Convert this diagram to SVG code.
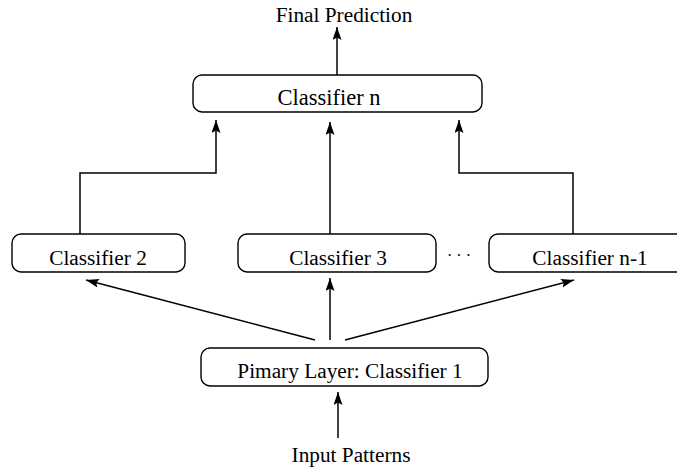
<svg xmlns="http://www.w3.org/2000/svg" width="677" height="469" viewBox="0 0 677 469">
  <defs>
    <marker id="arrow" viewBox="0 0 13 9" refX="13" refY="4.5" markerWidth="13" markerHeight="9" markerUnits="userSpaceOnUse" orient="auto">
      <path d="M0,0 L13,4.5 L0,9 L2.5,4.5 Z" fill="#000"/>
    </marker>
    <style>
      .box { fill: #fff; stroke: #000; stroke-width: 1.4; }
      .lbl { font-family: "Liberation Serif", "Times New Roman", serif; font-size: 21.3px; fill: #000; text-anchor: middle; }
      .top { font-size: 22.5px; }
      .edge { fill: none; stroke: #000; stroke-width: 1.5; marker-end: url(#arrow); }
    </style>
  </defs>

  <rect width="677" height="469" fill="#fff"/>

  <!-- terminal labels -->
  <text class="lbl" x="344" y="22">Final Prediction</text>
  <text class="lbl" x="351" y="462">Input Patterns</text>

  <!-- connectors -->
  <g id="connectors">
    <line class="edge" x1="337" y1="75" x2="337" y2="27"/>
    <line class="edge" x1="338" y1="438" x2="338" y2="392"/>
    <line class="edge" x1="315" y1="340" x2="86" y2="280"/>
    <line class="edge" x1="330" y1="340" x2="330" y2="278"/>
    <line class="edge" x1="345" y1="340" x2="574" y2="280"/>
    <polyline class="edge" points="80,234 80,173 216,173 216,120"/>
    <line class="edge" x1="330" y1="234" x2="330" y2="122"/>
    <polyline class="edge" points="573,234 573,173 459,173 459,120"/>
  </g>

  <g id="classifier-n">
    <rect class="box" x="193" y="75" width="289" height="37" rx="9"/>
    <text class="lbl top" x="329" y="105">Classifier n</text>
  </g>

  <g id="classifier-2">
    <rect class="box" x="12" y="234" width="173" height="38" rx="9"/>
    <text class="lbl" x="98" y="265">Classifier 2</text>
  </g>

  <g id="classifier-3">
    <rect class="box" x="238" y="234" width="198" height="38" rx="9"/>
    <text class="lbl" x="338" y="265">Classifier 3</text>
  </g>

  <g id="ellipsis">
    <text x="459" y="261" font-family="Liberation Serif, serif" font-size="16" text-anchor="middle" fill="#000">· · ·</text>
  </g>

  <g id="classifier-n-1">
    <rect class="box" x="489" y="234" width="200" height="38" rx="9"/>
    <text class="lbl" x="590" y="265">Classifier n-1</text>
  </g>

  <g id="classifier-1">
    <rect class="box" x="201" y="348" width="287" height="38" rx="9"/>
    <text class="lbl" x="350" y="378">Pimary Layer: Classifier 1</text>
  </g>
</svg>
